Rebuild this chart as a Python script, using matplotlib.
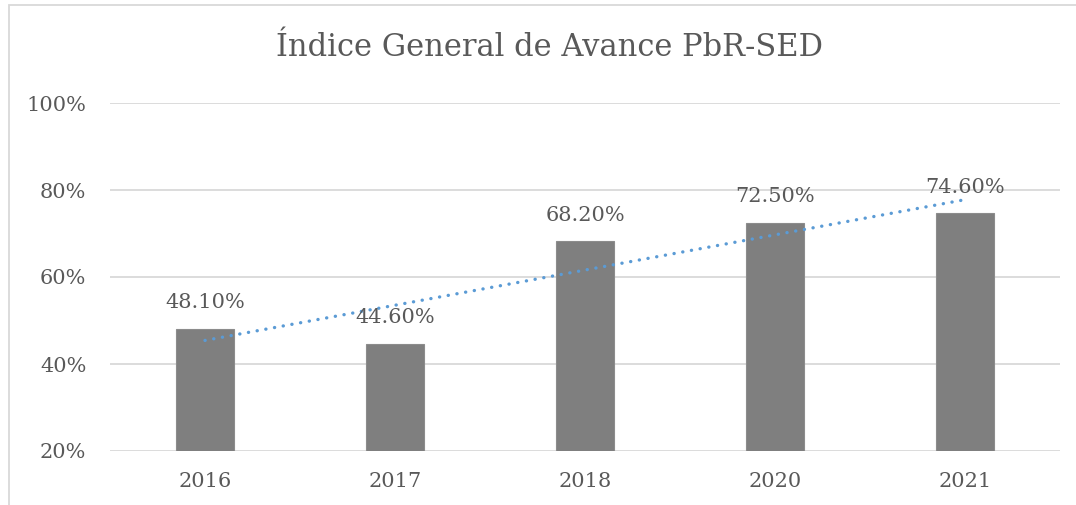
import numpy as np
import matplotlib
matplotlib.use("Agg")
import matplotlib.pyplot as plt
from matplotlib.patches import Rectangle

years = ["2016", "2017", "2018", "2020", "2021"]
values = [48.1, 44.6, 68.2, 72.5, 74.6]
title = "Índice General de Avance PbR-SED"

TEXT = "#595959"
GRID = "#d9d9d9"
BAR = "#7f7f7f"
TREND = "#5b9bd5"

plt.rcParams['font.family'] = ['DejaVu Serif']

fig = plt.figure(figsize=(10.76, 5.05), dpi=100)
ax = fig.add_axes([110/1076, 1-451/505, 950/1076, (451-103)/505])

x = np.arange(len(years))
ax.bar(x, values, width=0.31, color=BAR, edgecolor="#8c8c8c", linewidth=0.8,
       zorder=2)

for xi, v in zip(x, values):
    ax.annotate(f"{v:.2f}%", (xi, v), xytext=(0, 12), textcoords="offset points",
                ha="center", va="bottom", fontsize=15, color=TEXT, zorder=4)

# linear trendline
k, b = np.polyfit(x, values, 1)
ax.plot(x, k*x + b, color=TREND, linestyle=(0, (0.05, 2.6)), linewidth=2.4,
        dash_capstyle="round", zorder=3)

ax.set_xlim(-0.5, len(years) - 0.5)
ax.set_ylim(20, 100)
ax.set_yticks([20, 40, 60, 80, 100])
ax.set_yticklabels([f"{t}%" for t in [20, 40, 60, 80, 100]])
ax.set_xticks(x)
ax.set_xticklabels(years)
ax.tick_params(axis="both", length=0, labelsize=15, labelcolor=TEXT)
ax.tick_params(axis="y", pad=17)
ax.tick_params(axis="x", pad=15)
ax.grid(axis="y", color=GRID, linewidth=1.3, zorder=0)
ax.set_axisbelow(True)
for s in ax.spines.values():
    s.set_visible(False)

fig.text(549/1076, 1-48/505, title, ha="center", va="center", fontsize=22,
         color=TEXT, fontweight="light")

# chart area border (cut off at right and bottom)
fig.patches.append(Rectangle((9/1076, -0.1), 1.2, 1.1 - 5/505,
                             transform=fig.transFigure, fill=False,
                             edgecolor="#d9d9d9", linewidth=1.3))

fig.savefig("out.png", dpi=100)
